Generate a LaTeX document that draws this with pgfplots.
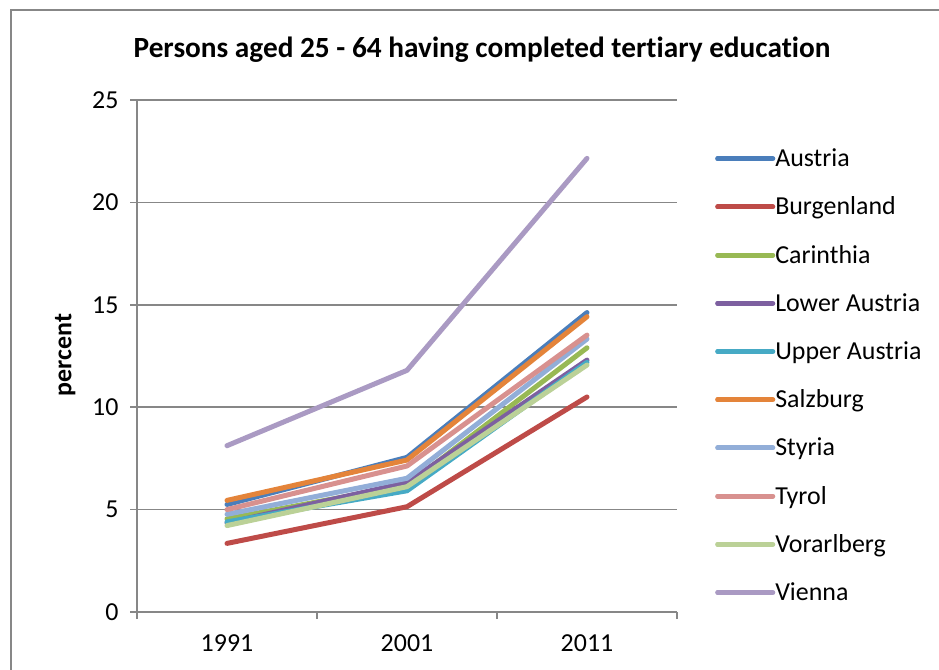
\documentclass[border=0pt]{standalone}
\usepackage{fontspec}
\setmainfont{Carlito}[Ligatures=NoCommon]
\usepackage{pgfplots}
\pgfplotsset{compat=1.18}
\definecolor{cAustria}{HTML}{4A7EBB}
\definecolor{cBurgenland}{HTML}{BE4B48}
\definecolor{cCarinthia}{HTML}{98B954}
\definecolor{cLower}{HTML}{7D60A0}
\definecolor{cUpper}{HTML}{46AAC5}
\definecolor{cSalzburg}{HTML}{E4843A}
\definecolor{cStyria}{HTML}{92AED8}
\definecolor{cTyrol}{HTML}{D8918F}
\definecolor{cVorarlberg}{HTML}{BBD197}
\definecolor{cVienna}{HTML}{AA9AC3}
\definecolor{gridgray}{HTML}{878787}
\begin{document}
\begin{tikzpicture}
\path[use as bounding box] (0bp,0bp) rectangle (939bp,670bp);
\draw[gridgray, line width=2bp] (11bp,0bp) -- (11bp,660bp) -- (939bp,660bp);
\begin{axis}[
  at={(137bp,58bp)}, anchor=south west,
  scale only axis, width=540bp, height=512bp,
  xmin=-0.5, xmax=2.5, ymin=0, ymax=25,
  axis x line=bottom, axis y line=left,
  axis line style={-, gridgray, line width=1.6bp},
  xtick={0,1,2}, xticklabels={1991,2001,2011},
  minor xtick={-0.5,0.5,1.5,2.5},
  ytick={0,5,10,15,20,25},
  ymajorgrids, grid style={gridgray, line width=1.6bp},
  tick align=outside,
  major tick length=7bp, minor tick length=7bp,
  x tick style={draw=none},
  minor x tick style={gridgray, line width=1.6bp, draw=gridgray},
  y tick style={gridgray, line width=1.6bp},
  tick label style={font=\fontsize{26}{30}\selectfont},
  /pgf/number format/assume math mode=true,
  xticklabel style={yshift=-12bp},
  yticklabel style={xshift=-8bp},
  title={\bfseries Persons aged 25 - 64 having completed tertiary education},
  title style={at={(axis description cs:0.639,1.086)}, anchor=center, font=\fontsize{29.4}{34}\selectfont},
  ylabel={\bfseries percent},
  ylabel style={at={(axis description cs:-0.133,0.502)}, anchor=center, rotate=0, font=\fontsize{26}{30}\selectfont},
  every axis plot/.append style={line width=5bp, line join=round, line cap=round},
  legend image code/.code={\draw[#1, line width=5bp, line cap=round] (0bp,0bp) -- (48bp,0bp); \path (0bp,0bp) -- (55bp,0bp);},
  legend style={at={(axis description cs:1.065,0.913)}, anchor=north west, draw=none, fill=none,
    font=\fontsize{26}{30}\selectfont, row sep=24.2bp,
    nodes={inner sep=0bp, text height=20bp, text depth=4bp}},
  legend cell align=left,
  clip=false,
]
\addplot[cAustria] coordinates {(0,5.25) (1,7.55) (2,14.62)};
\addlegendentry{Austria}
\addplot[cBurgenland] coordinates {(0,3.35) (1,5.14) (2,10.5)};
\addlegendentry{Burgenland}
\addplot[cCarinthia] coordinates {(0,4.55) (1,6.2) (2,12.9)};
\addlegendentry{Carinthia}
\addplot[cLower] coordinates {(0,4.35) (1,6.32) (2,12.3)};
\addlegendentry{Lower Austria}
\addplot[cUpper] coordinates {(0,4.4) (1,5.92) (2,12.19)};
\addlegendentry{Upper Austria}
\addplot[cSalzburg] coordinates {(0,5.45) (1,7.42) (2,14.42)};
\addlegendentry{Salzburg}
\addplot[cStyria] coordinates {(0,4.77) (1,6.53) (2,13.33)};
\addlegendentry{Styria}
\addplot[cTyrol] coordinates {(0,5.0) (1,7.13) (2,13.52)};
\addlegendentry{Tyrol}
\addplot[cVorarlberg] coordinates {(0,4.22) (1,6.12) (2,12.06)};
\addlegendentry{Vorarlberg}
\addplot[cVienna] coordinates {(0,8.12) (1,11.8) (2,22.15)};
\addlegendentry{Vienna}
\end{axis}
\end{tikzpicture}
\end{document}
